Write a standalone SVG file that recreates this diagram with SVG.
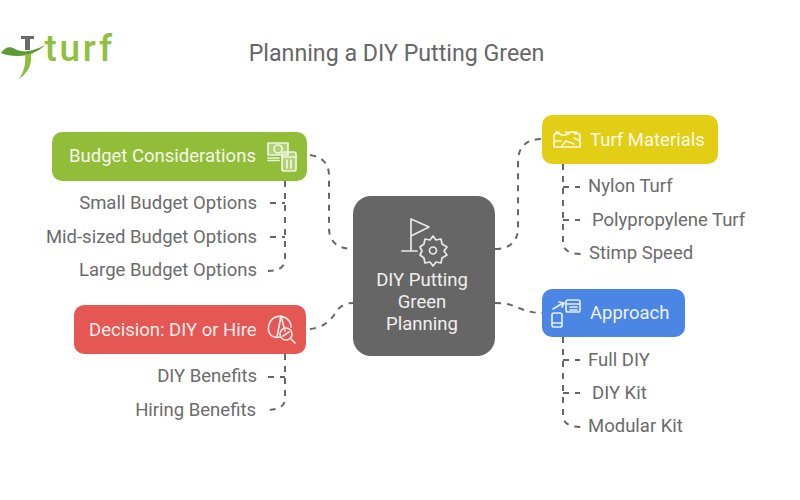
<svg xmlns="http://www.w3.org/2000/svg" width="800" height="500" viewBox="0 0 800 500">
<style>
text{font-family:Roboto,"Liberation Sans",sans-serif}
.t{font-size:23.2px;fill:#666}
.h{font-size:18.500px;fill:#fff;opacity:.9}
.s{font-size:18.500px;fill:#6b6b6b}
.c{fill:none;stroke:#666;stroke-width:2;stroke-dasharray:6 6}
.i{fill:none;stroke:#fff;stroke-width:1.7;stroke-linejoin:round;stroke-linecap:round;opacity:.85}
.e{text-anchor:end}.m{text-anchor:middle}
</style>
<rect width="800" height="500" fill="#fff"/>
<g id="logo">
<path d="M21 36H34V39H30V50H25V39H21Z" fill="#6a6a6a"/>
<path d="M1 53C5 47 10 46 15 49C20 52 27 52 33 50C37 49 41 47 45 45C38 52 28 56 18 56C11 56 5 55 1 53Z" fill="#5c9a32"/>
<path d="M25 54H31C32 65 28 73 19 79C24 71 26 64 25 54Z" fill="#8cbd3f"/>
<text x="44.500" y="61" font-size="37" font-weight="500" letter-spacing="2.700" fill="#8fc03f">turf</text>
</g>
<text class="t" x="396.500" y="61" text-anchor="middle">Planning a DIY Putting Green</text>
<g id="connectors">
<path class="c" d="M310 155C323 157 329 164 329 176V228C329 242 338 249 353 249"/>
<path class="c" d="M495 249C510 249 518 241 518 228V162C518 147 526 139 542 139"/>
<path class="c" d="M310 329C325 327 331 320 336 312C340 306 345 303 353 303"/>
<path class="c" d="M495 303C510 303 516 307 524 310C530 312 536 313 542 313"/>
<path class="c" d="M285 181V259C285 267 279 271 268 271"/>
<path class="c" d="M270 203H285"/>
<path class="c" d="M270 237H285"/>
<path class="c" d="M285 354V399C285 406 279 410 266 410"/>
<path class="c" d="M268 377H285"/>
<path class="c" d="M563 164V242C563 250 569 254 581 254"/>
<path class="c" d="M563 187H580"/>
<path class="c" d="M563 220H580"/>
<path class="c" d="M563 337V416C563 423 569 427 581 427"/>
<path class="c" d="M563 360H580"/>
<path class="c" d="M563 393H580"/>
</g>
<g id="budget">
<rect x="52" y="132" width="255" height="49" rx="10" fill="#92bd39"/>
<text class="h" x="69" y="161.500">Budget Considerations</text>
<g class="i"><path d="M268 143H288V155H268Z" fill="#fff" fill-opacity=".35"/><circle cx="278" cy="149" r="4"/><path d="M268 158H279M268 160.500H279"/><rect x="282" y="152" width="14" height="19" rx="2" fill="#fff" fill-opacity=".35"/><path d="M282 157H296M287 160V168M291 160V168"/></g>
</g>
<g id="decision">
<rect x="74" y="305" width="232" height="49" rx="10" fill="#e55753"/>
<text class="h" x="89" y="335.500">Decision: DIY or Hire</text>
<g class="i"><path d="M280 337C270 339 266 331 270 322C273 316 281 315 286 318C289 320 291 324 291 327"/><path d="M281 316L277 337M281 316L285 331"/><circle cx="286" cy="334" r="6"/><path d="M291 339L295 343M283 336L289 332"/></g>
</g>
<g id="center">
<rect x="353" y="196" width="142" height="160" rx="18" fill="#666"/>
<g class="i"><path d="M411 219V251M402 251H417M411 219L429 227L411 236"/><path d="M433 236L436 240L441 239L442 244L447 247L444 251L447 255L442 258L441 263L436 262L433 266L430 262L425 263L424 258L420 255L422 251L420 247L424 244L425 239L430 240Z"/><circle cx="433" cy="250.500" r="3.500"/></g>
<text class="h m" x="422" y="285.500">DIY Putting</text>
<text class="h m" x="422" y="307.500">Green</text>
<text class="h m" x="422" y="329.500">Planning</text>
</g>
<g id="turf-materials">
<rect x="542" y="115" width="176" height="49" rx="10" fill="#e2ce15"/>
<text class="h" x="590" y="145.500">Turf Materials</text>
<g class="i"><path d="M554 135V147H580V135L576 132H570L566 135H561L558 132ZM554 141H561M566 141L574 144M574 138L580 141M561 147L566 141M556 132L559 134M566 132L569 134M573 132L576 134"/></g>
</g>
<g id="approach">
<rect x="542" y="289" width="143" height="48" rx="10" fill="#4b86e5"/>
<text class="h" x="590" y="318.500">Approach</text>
<g class="i"><rect x="552" y="313" width="10" height="14" rx="2"/><path d="M552 323H562M553 309L563 303M559 302L564 303L562 307"/><rect x="566" y="300" width="14" height="12" rx="2"/><path d="M566 304H580M570 307H577M570 310H577"/></g>
</g>
<g id="budget-items">
<text class="s e" x="257" y="209">Small Budget Options</text>
<text class="s e" x="257" y="243">Mid-sized Budget Options</text>
<text class="s e" x="257" y="276">Large Budget Options</text>
</g>
<g id="decision-items">
<text class="s e" x="257" y="382">DIY Benefits</text>
<text class="s e" x="256" y="416">Hiring Benefits</text>
</g>
<g id="turf-items">
<text class="s" x="588" y="192">Nylon Turf</text>
<text class="s" x="592" y="226">Polypropylene Turf</text>
<text class="s" x="589" y="259">Stimp Speed</text>
</g>
<g id="approach-items">
<text class="s" x="588" y="366">Full DIY</text>
<text class="s" x="592" y="399">DIY Kit</text>
<text class="s" x="588" y="432">Modular Kit</text>
</g>
</svg>
